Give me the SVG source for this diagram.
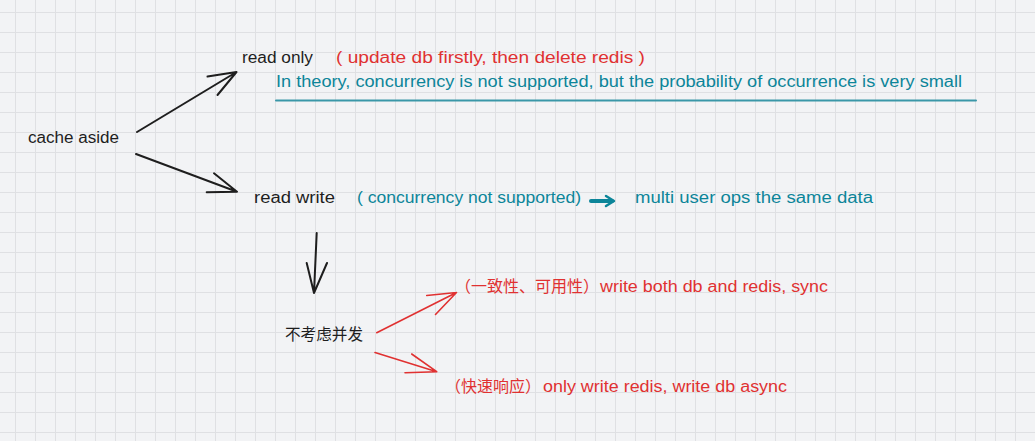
<svg xmlns="http://www.w3.org/2000/svg" width="1035" height="441" viewBox="0 0 1035 441">
<style>
.t{font-family:"Liberation Sans",Arial,sans-serif;font-size:16px}
.cjk{font-family:"Noto Sans CJK SC","Noto Sans",sans-serif;font-size:16px}
.k{fill:#1e1e1e}
.r{fill:#e03131}
.b{fill:#0c8599}
.ck{fill:none;stroke:#1e1e1e;stroke-width:2;stroke-linecap:round;stroke-linejoin:round}
.cr{fill:none;stroke:#e03131;stroke-width:1.6;stroke-linecap:round;stroke-linejoin:round}
.cb{fill:none;stroke:#0c8599;stroke-linecap:round;stroke-linejoin:round}
</style>
<defs>
<pattern id="grid" x="15" y="12" width="20" height="20" patternUnits="userSpaceOnUse">
<rect x="0" y="0" width="1" height="20" fill="#dfe0e3"/>
<rect x="0" y="0" width="20" height="1" fill="#dfe0e3"/>
</pattern>
</defs>
<rect width="1035" height="441" fill="#f2f3f5"/>
<rect width="1035" height="441" fill="url(#grid)"/>

<g id="node-cache-aside">
<text class="t k" x="28" y="143" textLength="91" lengthAdjust="spacingAndGlyphs">cache aside</text>
</g>
<g id="node-read-only">
<text class="t k" x="242" y="63" textLength="71" lengthAdjust="spacingAndGlyphs">read only</text>
<text class="t r" x="336" y="63" textLength="309" lengthAdjust="spacingAndGlyphs">( update db firstly, then delete redis )</text>
<text class="t b" x="276" y="87" textLength="686" lengthAdjust="spacingAndGlyphs">In theory, concurrency is not supported, but the probability of occurrence is very small</text>
<line x1="276" y1="100.5" x2="976" y2="100.5" stroke="#3a97a8" stroke-width="2" stroke-linecap="round"/>
</g>
<g id="node-read-write">
<text class="t k" x="254" y="203" textLength="81" lengthAdjust="spacingAndGlyphs">read write</text>
<text class="t b" x="357" y="203" textLength="224" lengthAdjust="spacingAndGlyphs">( concurrency not supported)</text>
<text class="t b" x="635" y="203" textLength="238" lengthAdjust="spacingAndGlyphs">multi user ops the same data</text>
</g>
<g id="node-no-concurrency">
<text class="cjk k" x="285" y="340" textLength="78" lengthAdjust="spacingAndGlyphs">不考虑并发</text>
</g>
<g id="node-sync">
<text class="cjk r" x="455" y="292">（一致性、可用性）</text>
<text class="t r" x="600" y="292" textLength="228" lengthAdjust="spacingAndGlyphs">write both db and redis, sync</text>
</g>
<g id="node-async">
<text class="cjk r" x="445" y="392">（快速响应）</text>
<text class="t r" x="543" y="392" textLength="244" lengthAdjust="spacingAndGlyphs">only write redis, write db async</text>
</g>

<g id="connectors">
<path class="ck" d="M137 132 L236.5 72 M207.5 76.5 L236.5 72 L217.5 95"/>
<path class="ck" d="M136 154 L237 191.7 M214 173.3 L237 191.7 L206.7 192.3"/>
<path class="ck" d="M316.7 233 L314 293 M306.7 263 L314 293 L327 263"/>
<path class="cr" d="M376.7 332.7 L456.5 292.5 M426.7 295.5 L456.5 292.5 L435.5 314.5"/>
<path class="cr" d="M375 352.5 L436.7 371.7 M411.7 354 L436.7 371.7 L405 372.7"/>
<path class="cb" stroke-width="4" d="M591 201 L612 201"/>
<path class="cb" stroke-width="2.5" d="M606 196 L614 201 L606 206"/>
</g>
</svg>
